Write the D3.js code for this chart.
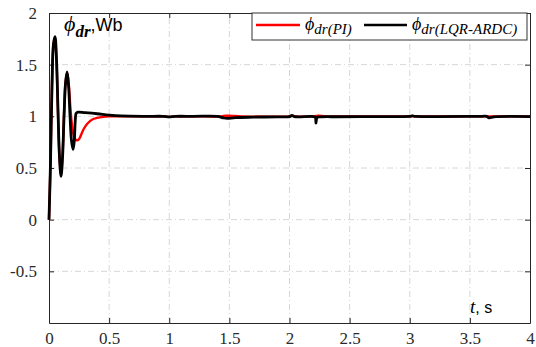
<!DOCTYPE html>
<html>
<head>
<meta charset="utf-8">
<script src="https://cdn.jsdelivr.net/npm/d3@7"></script>
<style>
  html, body { margin: 0; padding: 0; background: #fff; }
  svg { display: block; }
  .tick text { font-family: "Liberation Serif", "DejaVu Serif", serif; font-size: 17px; fill: #2b2b2b; }
  .serif { font-family: "Liberation Serif", "DejaVu Serif", serif; }
  .sans { font-family: "Liberation Sans", Arial, sans-serif; }
</style>
</head>
<body>
<div id="chart"></div>
<script>
// ---- data -----------------------------------------------------
const tPI = [0, 0.0125, 0.025, 0.0375, 0.05, 0.0625, 0.075, 0.0875, 0.1, 0.1125, 0.125, 0.1375, 0.152,
  0.165, 0.18, 0.195, 0.21, 0.225, 0.24, 0.255, 0.27, 0.29, 0.32, 0.36, 0.4, 0.45, 0.5, 0.6, 0.8,
  0.95, 1.0, 1.05, 1.2, 1.43, 1.47, 1.52, 1.6, 2.0, 2.02, 2.05, 2.2, 2.24, 2.3, 2.6, 3.0, 3.02, 3.05,
  3.6, 3.65, 3.7, 4.0];
const phiPI = [0, 0.55, 1.3, 1.7, 1.76, 1.52, 1.02, 0.6, 0.43, 0.62, 1.02, 1.33, 1.42,
  1.3, 1.05, 0.88, 0.8, 0.77, 0.77, 0.79, 0.83, 0.88, 0.93, 0.97, 0.985, 0.995, 1.0, 1.0, 1.0,
  1.0, 0.995, 1.0, 1.0, 1.0, 1.006, 1.004, 1.0, 1.0, 1.005, 1.0, 1.0, 1.006, 1.0, 1.0, 1.0, 1.003, 1.0,
  1.0, 1.0, 1.0, 1.0];

const tLQR = [0, 0.0125, 0.025, 0.0375, 0.05, 0.0625, 0.075, 0.0875, 0.1, 0.1125, 0.125, 0.1375, 0.15,
  0.1625, 0.175, 0.1875, 0.2, 0.21, 0.218, 0.226, 0.24, 0.3, 0.4, 0.5, 0.6, 0.8,
  0.95, 1.0, 1.05, 1.2, 1.4, 1.45, 1.48, 1.55, 1.7, 1.9, 2.0, 2.02, 2.04, 2.2, 2.215, 2.22, 2.23,
  2.26, 2.4, 2.6, 3.0, 3.02, 3.05, 3.6, 3.64, 3.66, 3.7, 4.0];
const phiLQR = [0, 0.55, 1.3, 1.7, 1.77, 1.55, 1.05, 0.6, 0.42, 0.6, 1.0, 1.32, 1.43,
  1.3, 1.0, 0.76, 0.68, 0.76, 0.95, 1.03, 1.04, 1.035, 1.025, 1.012, 1.004, 1.0,
  1.0, 0.995, 1.0, 1.0, 1.0, 0.985, 0.98, 0.988, 0.992, 0.995, 0.997, 1.008, 0.997, 0.998, 0.99, 0.935, 0.99,
  0.995, 0.996, 0.998, 1.0, 1.004, 1.0, 1.0, 1.0, 0.985, 0.995, 0.998];

const xTicks = [0, 0.5, 1, 1.5, 2, 2.5, 3, 3.5, 4];
const yTicks = [-0.5, 0, 0.5, 1, 1.5, 2];
const xLabels = ["0", "0.5", "1", "1.5", "2", "2.5", "3", "3.5", "4"];
const yLabels = ["-0.5", "0", "0.5", "1", "1.5", "2"];

// ---- layout ---------------------------------------------------
const W = 536, H = 347;
const m = { left: 49, right: 6, top: 13, bottom: 24 };

const svg = d3.select("#chart").append("svg").attr("width", W).attr("height", H);

const x = d3.scaleLinear().domain([0, 4]).range([m.left, W - m.right]);
const y = d3.scaleLinear().domain([-1, 2]).range([H - m.bottom, m.top]);

// grid
const grid = svg.append("g").attr("stroke", "#d6d6d6").attr("stroke-width", 1)
  .attr("stroke-dasharray", "6,3,1,3");
grid.selectAll(".gx").data(xTicks.slice(1, -1)).join("line")
  .attr("x1", d => x(d)).attr("x2", d => x(d)).attr("y1", y(-1)).attr("y2", y(2));
grid.selectAll(".gy").data(yTicks.slice(0, -1)).join("line")
  .attr("x1", x(0)).attr("x2", x(4)).attr("y1", d => y(d)).attr("y2", d => y(d));

// axes (ticks inward on all four sides)
const axisColor = "#262626";
const xAxis = svg.append("g").attr("transform", `translate(0,${y(-1)})`)
  .call(d3.axisBottom(x).tickValues(xTicks).tickFormat((d, i) => xLabels[i]).tickSizeInner(-5).tickSizeOuter(0).tickPadding(9));
const xTop = svg.append("g").attr("transform", `translate(0,${y(2)})`)
  .call(d3.axisTop(x).tickValues(xTicks).tickFormat("").tickSizeInner(-5).tickSizeOuter(0));
const yAxis = svg.append("g").attr("transform", `translate(${x(0)},0)`)
  .call(d3.axisLeft(y).tickValues(yTicks).tickFormat((d, i) => yLabels[i]).tickSizeInner(-5).tickSizeOuter(0).tickPadding(12));
const yRight = svg.append("g").attr("transform", `translate(${x(4)},0)`)
  .call(d3.axisRight(y).tickValues(yTicks).tickFormat("").tickSizeInner(-5).tickSizeOuter(0));
[xAxis, xTop, yAxis, yRight].forEach(g => {
  g.selectAll("path, line").attr("stroke", axisColor);
  g.attr("font-family", null).attr("font-size", null);
});

// lines
const line = (ts) => d3.line().x((d, i) => x(ts[i])).y(d => y(d)).curve(d3.curveCatmullRom.alpha(0.5));
svg.append("path").datum(phiPI).attr("fill", "none").attr("stroke", "#ff0000")
  .attr("stroke-width", 2.4).attr("stroke-linejoin", "round").attr("d", line(tPI));
svg.append("path").datum(phiLQR).attr("fill", "none").attr("stroke", "#000")
  .attr("stroke-width", 2.8).attr("stroke-linejoin", "round").attr("d", line(tLQR));

// y label
const yl = svg.append("text").attr("x", 64).attr("y", 31);
yl.append("tspan").attr("class", "serif").attr("font-style", "italic")
  .attr("font-size", 22).text("ϕ");
yl.append("tspan").attr("class", "serif").attr("font-style", "italic")
  .attr("font-weight", "bold").attr("font-size", 17).attr("dy", 6).text("dr");
yl.append("tspan").attr("class", "sans")
  .attr("font-size", 18).attr("dy", -6).text(",Wb");

// x label
const xl = svg.append("text").attr("x", 470).attr("y", 313);
xl.append("tspan").attr("class", "serif").attr("font-style", "italic")
  .attr("font-size", 19).text("t");
xl.append("tspan").attr("class", "sans")
  .attr("font-size", 16).text(", s");

// legend
const lg = svg.append("g");
lg.append("rect").attr("x", 252).attr("y", 13).attr("width", 275).attr("height", 27)
  .attr("fill", "#fff").attr("stroke", "#333").attr("stroke-width", 1);
const legendItems = [
  { color: "#ff0000", x0: 256, x1: 300, tx: 305, sub: "dr(PI)" },
  { color: "#000", x0: 364, x1: 407, tx: 412, sub: "dr(LQR-ARDC)" }
];
legendItems.forEach(it => {
  lg.append("line").attr("x1", it.x0).attr("x2", it.x1).attr("y1", 25).attr("y2", 25)
    .attr("stroke", it.color).attr("stroke-width", 2.4);
  const t = lg.append("text").attr("x", it.tx).attr("y", 30)
    .attr("class", "serif").attr("font-style", "italic");
  t.append("tspan").attr("font-size", 18).text("ϕ");
  t.append("tspan").attr("font-size", 15).attr("dy", 4).text(it.sub);
});
</script>
</body>
</html>
